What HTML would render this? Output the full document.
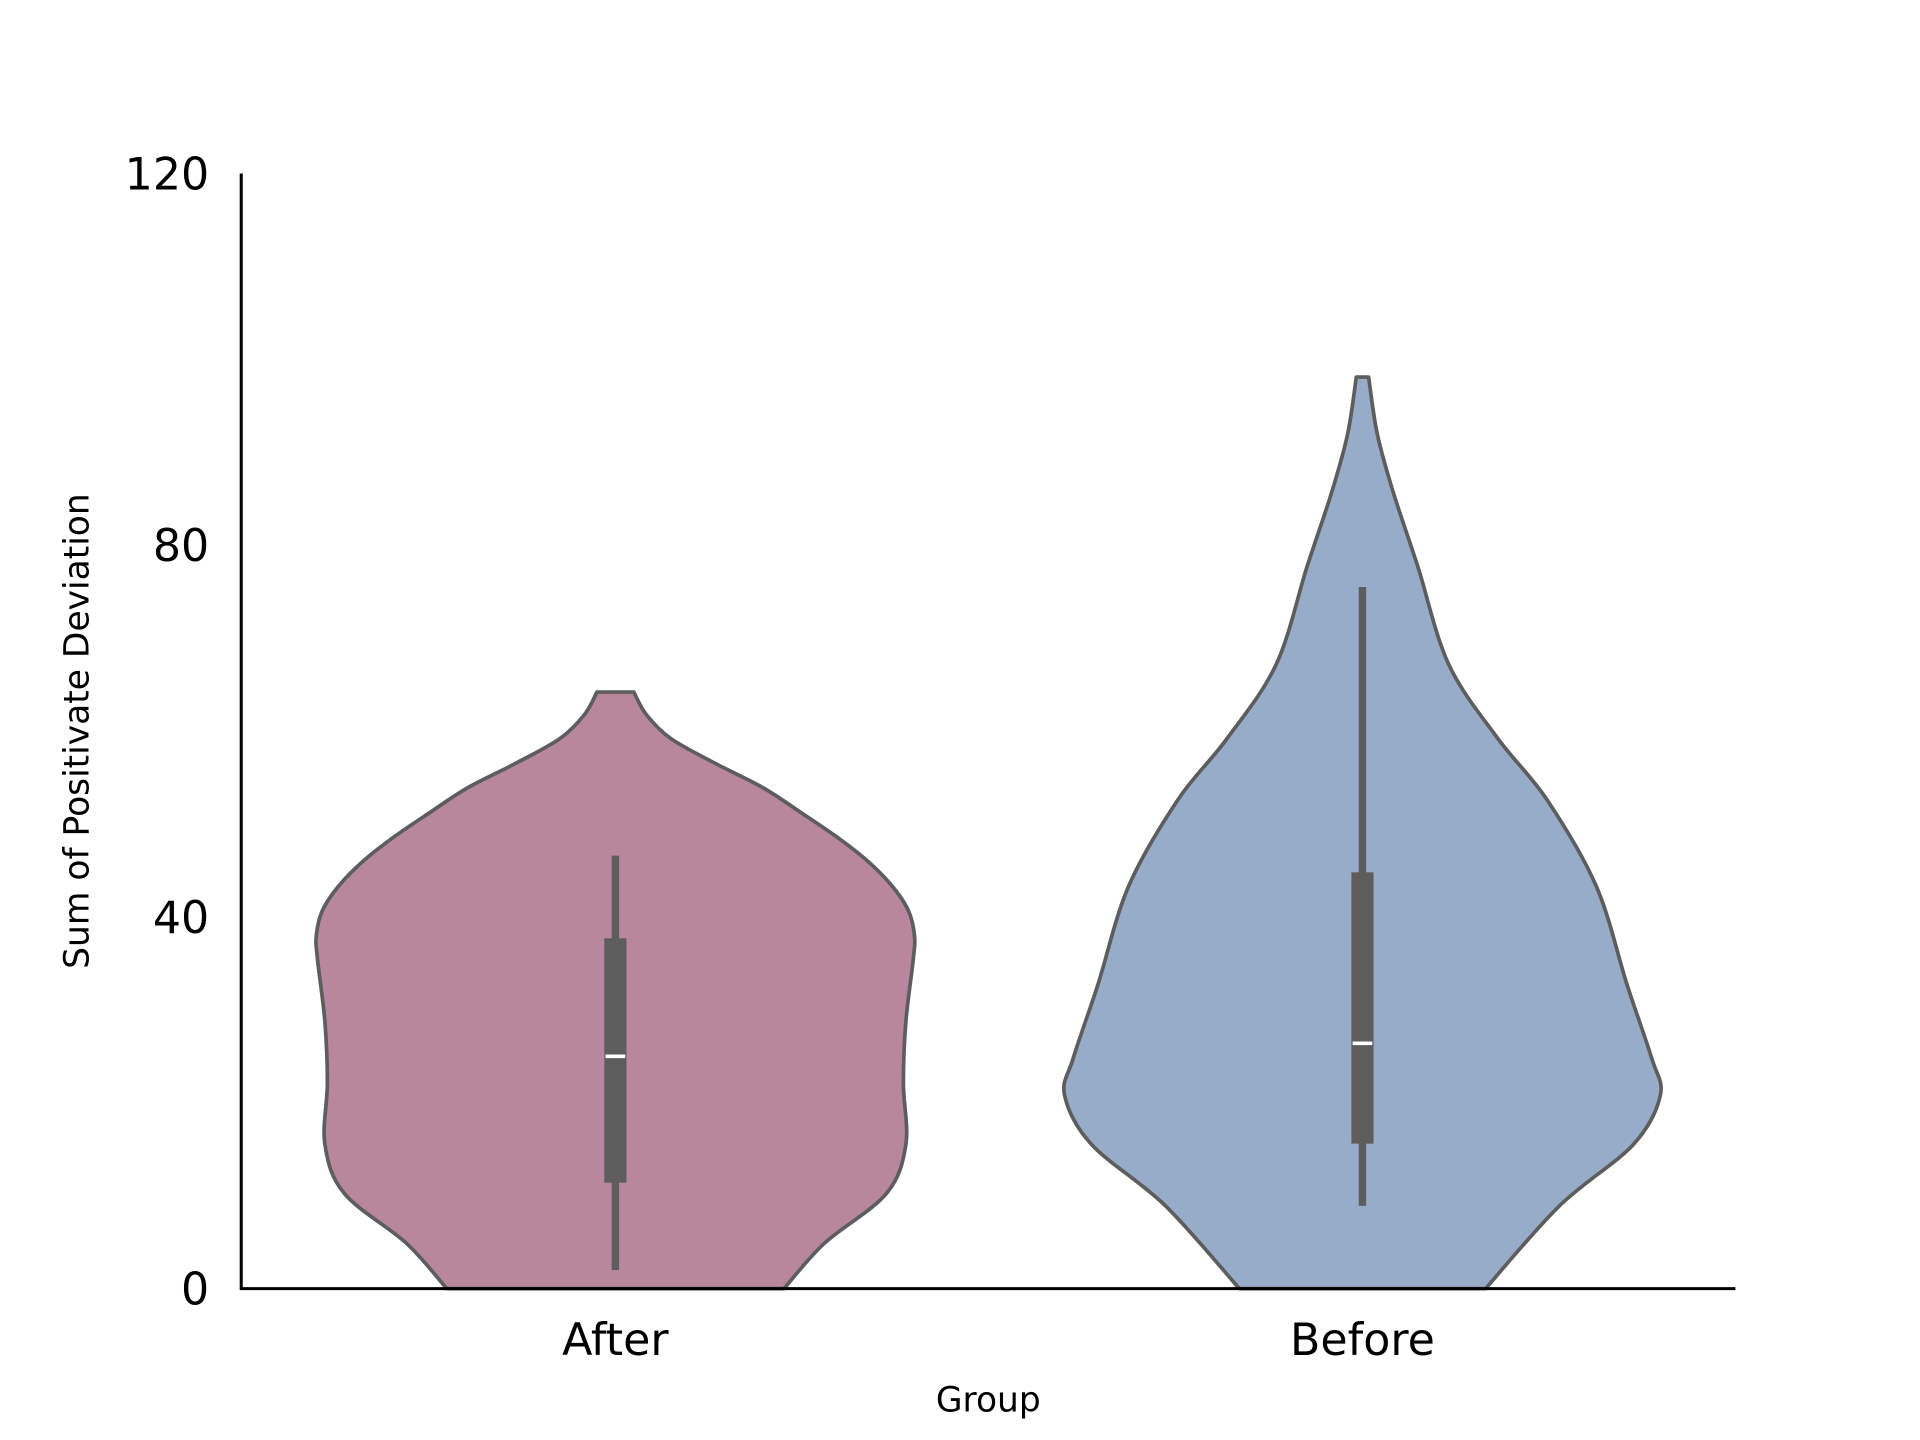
<!DOCTYPE html>
<html><head><meta charset="utf-8"><style>html,body{margin:0;padding:0;background:#fff}svg{display:block}</style></head>
<body>
<svg id="chart" width="1920" height="1440" viewBox="0 0 1560 1170" xmlns="http://www.w3.org/2000/svg" font-family="'DejaVu Sans','Liberation Sans',sans-serif">
<rect width="1560" height="1170" fill="#fff"/>
<g id="violins"></g>
<g id="axes"></g>
</svg>
<script>
const categories = ["After", "Before"];
const colors = ["#b9879b", "#96acc8"];
const afterY = [64.2, 61.8, 59.2, 56.6, 53.9, 51.3, 48.6, 46.0, 43.3, 40.7, 38.0, 35.4, 28.7, 22.1, 15.5, 10.2, 4.9, 0];
const afterDensity = [15, 25, 45, 80, 120, 150, 180, 205, 225, 238, 243, 242, 236, 234, 236, 220, 170, 137];
const beforeY = [98.1, 92.0, 85.7, 77.7, 67.2, 59.2, 52.6, 43.3, 32.7, 24.8, 20.8, 15.5, 8.9, 0];
const beforeDensity = [5, 12, 25, 45, 70, 110, 150, 190, 215, 235, 242, 220, 160, 100];
const whiskerLow = [2.0, 8.9];
const whiskerHigh = [46.6, 75.5];
const q1 = [11.4, 15.6];
const q3 = [37.7, 44.8];
const medians = [25.0, 26.4];
const yTicks = [0, 40, 80, 120];

const NS = "http://www.w3.org/2000/svg";
const x0 = 196, x1 = 1410, yBase = 1047, yTop = 141;
const yScale = v => yBase - (v / 120) * (yBase - yTop);
const xScale = i => [500, 1107][i];
const wScale = d => d;

function mk(tag, attrs, parent) {
  const e = document.createElementNS(NS, tag);
  for (const k in attrs) e.setAttribute(k, attrs[k]);
  parent.appendChild(e);
  return e;
}
function smooth(pts) {
  let d = "M" + pts[0][0] + "," + pts[0][1];
  for (let i = 0; i < pts.length - 1; i++) {
    const p0 = pts[Math.max(0, i - 1)], p1 = pts[i], p2 = pts[i + 1], p3 = pts[Math.min(pts.length - 1, i + 2)];
    const c1 = [p1[0] + (p2[0] - p0[0]) / 6, p1[1] + (p2[1] - p0[1]) / 6];
    const c2 = [p2[0] - (p3[0] - p1[0]) / 6, p2[1] - (p3[1] - p1[1]) / 6];
    d += " C" + c1 + " " + c2 + " " + p2;
  }
  return d;
}
const vg = document.getElementById("violins");
const ys = [afterY, beforeY], ds = [afterDensity, beforeDensity];
categories.forEach((c, i) => {
  const cx = xScale(i);
  const right = ys[i].map((v, j) => [cx + wScale(ds[i][j]), yScale(v)]);
  const left = ys[i].map((v, j) => [cx - wScale(ds[i][j]), yScale(v)]).reverse();
  const d = smooth(right) + " L" + left[0] + smooth(left).replace(/^M[^ ]+/, "") + " Z";
  const p = mk("path", {d: d, fill: colors[i], stroke: "#5d5d5d", "stroke-width": 3, "stroke-linejoin": "round"}, vg);
  
  
  const w = mk("line", {x1: cx, x2: cx, y1: yScale(whiskerLow[i]), y2: yScale(whiskerHigh[i]), stroke: "#5d5d5d", "stroke-width": 6}, vg);
  
  
  const b = mk("rect", {x: cx - 9, y: yScale(q3[i]), width: 18, height: yScale(q1[i]) - yScale(q3[i]), fill: "#5d5d5d"}, vg);
  
  
  const m = mk("line", {x1: cx - 8, x2: cx + 8, y1: yScale(medians[i]), y2: yScale(medians[i]), stroke: "#fff", "stroke-width": 3}, vg);
  
  
  const t = mk("text", {x: cx, y: 1101, "font-size": 36, "text-anchor": "middle", fill: "#000"}, vg);
  t.textContent = c;
  
  
});
const ag = document.getElementById("axes");
const ya = mk("line", {x1: x0, x2: x0, y1: yTop, y2: yBase + 1, stroke: "#000", "stroke-width": 2.5}, ag);


const xa = mk("line", {x1: x0 - 1, x2: x1, y1: yBase, y2: yBase, stroke: "#000", "stroke-width": 2.5}, ag);


yTicks.forEach(v => {
  const t = mk("text", {x: 170, y: yScale(v) + 13, "font-size": 36, "text-anchor": "end", fill: "#000"}, ag);
  t.textContent = v;
  
  
});
const xt = mk("text", {x: 803, y: 1147, "font-size": 28, "text-anchor": "middle", fill: "#000"}, ag);
xt.textContent = "Group";


const yt = mk("text", {x: 0, y: 0, "font-size": 28, "text-anchor": "middle", fill: "#000", transform: "translate(72,594) rotate(-90)"}, ag);
yt.textContent = "Sum of Positivate Deviation";


</script>
</body></html>
